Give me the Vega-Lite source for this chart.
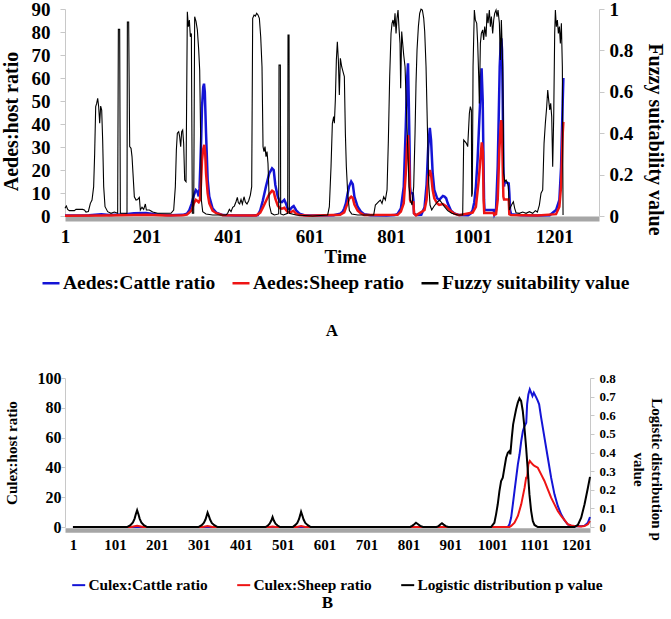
{
"$schema": "https://vega.github.io/schema/vega-lite/v6.json",
"padding": {"left": 0, "top": 0, "right": 6, "bottom": 0},
"background": "white",
"config": {
 "font": "Liberation Serif",
 "view": {"stroke": null},
 "axis": {"grid": false, "labelFont": "Liberation Serif", "labelFontWeight": "bold", "titleFont": "Liberation Serif", "titleFontWeight": "bold", "labelColor": "#000", "titleColor": "#000", "labelFlush": false, "labelOverlap": false, "labelBound": false},
 "legend": {"labelFont": "Liberation Serif", "labelFontWeight": "bold", "labelColor": "#000"},
 "title": {"font": "Liberation Serif", "fontWeight": "bold", "color": "#000"}
},
"datasets": {
 "aCattle": [{"t":1,"v":0.2},{"t":60,"v":0.3},{"t":90,"v":0.8},{"t":110,"v":0.4},{"t":140,"v":0.6},{"t":170,"v":1.2},{"t":200,"v":1.3},{"t":230,"v":0.6},{"t":260,"v":0.3},{"t":290,"v":0.5},{"t":300,"v":1.0},{"t":306,"v":2.5},{"t":312,"v":5.5},{"t":317,"v":9},{"t":322,"v":11.3},{"t":326,"v":10.5},{"t":329,"v":8.5},{"t":331,"v":12},{"t":333,"v":22},{"t":335,"v":33},{"t":337,"v":47},{"t":340,"v":56},{"t":342,"v":57.5},{"t":344,"v":54},{"t":347,"v":36},{"t":351,"v":15.6},{"t":355,"v":8.4},{"t":363,"v":3.3},{"t":372,"v":1.5},{"t":388,"v":0.4},{"t":420,"v":0.2},{"t":460,"v":0.2},{"t":474,"v":0.4},{"t":480,"v":2.5},{"t":486,"v":6.5},{"t":494,"v":12.8},{"t":502,"v":18.5},{"t":509,"v":20.7},{"t":513,"v":20},{"t":517,"v":13.5},{"t":523,"v":8.4},{"t":528,"v":6.2},{"t":533,"v":6.0},{"t":539,"v":7.0},{"t":543,"v":5.5},{"t":547,"v":3.2},{"t":553,"v":2.8},{"t":558,"v":3.8},{"t":562,"v":4.3},{"t":568,"v":2.5},{"t":576,"v":1.0},{"t":588,"v":0.3},{"t":620,"v":0.2},{"t":660,"v":0.3},{"t":676,"v":1.0},{"t":682,"v":1.8},{"t":686,"v":3.3},{"t":690,"v":5.5},{"t":694,"v":9.5},{"t":698,"v":12.8},{"t":703,"v":15},{"t":707,"v":13.8},{"t":711,"v":8.4},{"t":719,"v":4.0},{"t":727,"v":1.9},{"t":735,"v":0.8},{"t":750,"v":0.3},{"t":790,"v":0.2},{"t":810,"v":0.4},{"t":817,"v":0.9},{"t":825,"v":3.3},{"t":832,"v":12.8},{"t":837,"v":38.9},{"t":840,"v":59},{"t":842.5,"v":66.4},{"t":844,"v":53.3},{"t":846,"v":33},{"t":847.5,"v":12.8},{"t":849,"v":10.1},{"t":854,"v":9.8},{"t":855.6,"v":7.0},{"t":857.2,"v":1.1},{"t":862,"v":0.4},{"t":875,"v":0.5},{"t":883,"v":3.8},{"t":888,"v":13.5},{"t":892,"v":30},{"t":896,"v":38.3},{"t":899,"v":33},{"t":903,"v":18.5},{"t":907,"v":11.3},{"t":914,"v":7.7},{"t":919,"v":7.0},{"t":928,"v":8.7},{"t":932,"v":8.4},{"t":936,"v":7.7},{"t":940,"v":5.5},{"t":948,"v":2.3},{"t":956,"v":1.1},{"t":968,"v":0.4},{"t":990,"v":0.3},{"t":996,"v":1.0},{"t":1001,"v":2.6},{"t":1005,"v":6},{"t":1009,"v":12.8},{"t":1013,"v":24},{"t":1016,"v":36},{"t":1019,"v":48},{"t":1021,"v":57.7},{"t":1023,"v":64.2},{"t":1025.7,"v":50.4},{"t":1027.3,"v":28.7},{"t":1029,"v":7},{"t":1030,"v":2.6},{"t":1052.7,"v":2.6},{"t":1054.3,"v":0.8},{"t":1058.4,"v":2.6},{"t":1062.5,"v":21.4},{"t":1065,"v":43.2},{"t":1067.4,"v":64.9},{"t":1069.9,"v":75.1},{"t":1071.5,"v":77.2},{"t":1073.1,"v":72.2},{"t":1074.8,"v":50.4},{"t":1076.4,"v":21.4},{"t":1078,"v":12.8},{"t":1079.7,"v":14.9},{"t":1089.5,"v":14.2},{"t":1091.1,"v":9.8},{"t":1092.8,"v":2.6},{"t":1095.2,"v":0.8},{"t":1120,"v":0.3},{"t":1160,"v":0.2},{"t":1190,"v":0.3},{"t":1205.6,"v":2.6},{"t":1213.8,"v":7},{"t":1217.9,"v":21},{"t":1222,"v":50},{"t":1223.6,"v":60}],
 "aSheep": [{"t":1,"v":0.1},{"t":100,"v":0.2},{"t":170,"v":0.4},{"t":200,"v":0.5},{"t":250,"v":0.2},{"t":290,"v":0.3},{"t":300,"v":0.6},{"t":306,"v":1.5},{"t":312,"v":2.6},{"t":317,"v":5.5},{"t":322,"v":7},{"t":326,"v":6.5},{"t":329,"v":6.0},{"t":332,"v":7},{"t":334,"v":12},{"t":337,"v":24},{"t":340,"v":29},{"t":342.8,"v":30.9},{"t":345,"v":27},{"t":347,"v":18.5},{"t":351,"v":9.8},{"t":355,"v":5.5},{"t":363,"v":2.3},{"t":372,"v":1.2},{"t":388,"v":0.3},{"t":470,"v":0.2},{"t":480,"v":1.5},{"t":486,"v":3.5},{"t":494,"v":6.5},{"t":502,"v":9.5},{"t":509,"v":11},{"t":513,"v":10.5},{"t":517,"v":7.5},{"t":523,"v":4.5},{"t":528,"v":3.4},{"t":533,"v":3.2},{"t":539,"v":3.6},{"t":547,"v":1.8},{"t":553,"v":1.5},{"t":561,"v":2.3},{"t":568,"v":1.0},{"t":576,"v":0.4},{"t":600,"v":0.1},{"t":676,"v":0.5},{"t":686,"v":1.6},{"t":694,"v":5.5},{"t":698,"v":7.5},{"t":703,"v":8.4},{"t":707,"v":7.8},{"t":711,"v":5},{"t":719,"v":2.3},{"t":727,"v":1.1},{"t":735,"v":0.4},{"t":817,"v":0.5},{"t":825,"v":1.9},{"t":832,"v":5.5},{"t":837,"v":18.5},{"t":840,"v":30},{"t":842.5,"v":35.2},{"t":844,"v":30},{"t":846,"v":18.5},{"t":847.5,"v":7},{"t":849,"v":6.2},{"t":855.6,"v":6.0},{"t":857.2,"v":1.1},{"t":862,"v":0.3},{"t":883,"v":2.6},{"t":888,"v":7},{"t":892,"v":17},{"t":896,"v":20},{"t":899,"v":18},{"t":903,"v":11.3},{"t":907,"v":7.7},{"t":914,"v":5.5},{"t":919,"v":4.8},{"t":928,"v":5.2},{"t":936,"v":4.3},{"t":944,"v":2.6},{"t":956,"v":1.0},{"t":968,"v":0.3},{"t":1001,"v":1.5},{"t":1009,"v":4.0},{"t":1016,"v":15.6},{"t":1021,"v":27},{"t":1023.5,"v":32},{"t":1026,"v":28},{"t":1028,"v":7},{"t":1029.5,"v":1.3},{"t":1052.5,"v":1.3},{"t":1054,"v":0.5},{"t":1058.4,"v":0.8},{"t":1062.5,"v":7},{"t":1066.6,"v":28.7},{"t":1069.9,"v":39.5},{"t":1071.5,"v":41.7},{"t":1073.1,"v":38.6},{"t":1074.8,"v":21.4},{"t":1076.4,"v":8.4},{"t":1078,"v":7.2},{"t":1089.5,"v":7.2},{"t":1091,"v":0.8},{"t":1095,"v":0.4},{"t":1160,"v":0.2},{"t":1205.6,"v":0.8},{"t":1213.8,"v":4},{"t":1217.9,"v":12.8},{"t":1222,"v":36},{"t":1223.6,"v":40.9}],
 "aFuzzy": [{"t":1,"v":0.037},{"t":4.3,"v":0.048},{"t":7.6,"v":0.032},{"t":11.6,"v":0.026},{"t":23.9,"v":0.026},{"t":28,"v":0.032},{"t":44.4,"v":0.032},{"t":48.5,"v":0.029},{"t":52.5,"v":0.019},{"t":58.3,"v":0.022},{"t":63.2,"v":0.061},{"t":67.3,"v":0.077},{"t":71.3,"v":0.142},{"t":73.8,"v":0.303},{"t":76.3,"v":0.528},{"t":78.7,"v":0.544},{"t":81.2,"v":0.568},{"t":83.6,"v":0.528},{"t":86.1,"v":0.448},{"t":88.5,"v":0.531},{"t":91,"v":0.512},{"t":93.4,"v":0.367},{"t":95.9,"v":0.142},{"t":99.2,"v":0.045},{"t":105.7,"v":0.021},{"t":113.9,"v":0.013},{"t":122.1,"v":0.019},{"t":130.2,"v":0.013},{"t":131.9,"v":0.902},{"t":135.1,"v":0.902},{"t":136.8,"v":0.013},{"t":153.1,"v":0.013},{"t":154,"v":0.937},{"t":157.2,"v":0.937},{"t":159.7,"v":0.335},{"t":163,"v":0.327},{"t":165.4,"v":0.287},{"t":167.8,"v":0.206},{"t":171.1,"v":0.093},{"t":175.2,"v":0.077},{"t":179.3,"v":0.08},{"t":183.4,"v":0.09},{"t":185.8,"v":0.029},{"t":189.9,"v":0.042},{"t":194,"v":0.032},{"t":198.1,"v":0.058},{"t":200.6,"v":0.029},{"t":207.9,"v":0.029},{"t":216.1,"v":0.019},{"t":228.4,"v":0.013},{"t":261.1,"v":0.013},{"t":267.6,"v":0.029},{"t":271.7,"v":0.142},{"t":274.2,"v":0.319},{"t":276.6,"v":0.4},{"t":279.9,"v":0.407},{"t":282.3,"v":0.383},{"t":284.8,"v":0.335},{"t":287.2,"v":0.407},{"t":289.7,"v":0.415},{"t":292.1,"v":0.351},{"t":294.6,"v":0.174},{"t":297.9,"v":0.166},{"t":301.1,"v":0.987},{"t":303.6,"v":0.915},{"t":306.1,"v":0.947},{"t":308.5,"v":0.866},{"t":311,"v":0.882},{"t":313.4,"v":0.013},{"t":316.7,"v":0.013},{"t":319.1,"v":0.963},{"t":322.4,"v":0.94},{"t":325.7,"v":0.899},{"t":329,"v":0.802},{"t":331.4,"v":0.705},{"t":333.9,"v":0.367},{"t":335.5,"v":0.077},{"t":338.8,"v":0.021},{"t":346.9,"v":0.01},{"t":363.3,"v":0.005},{"t":396,"v":0.005},{"t":400.1,"v":0.013},{"t":404.2,"v":0.032},{"t":408.3,"v":0.021},{"t":412.4,"v":0.042},{"t":416.4,"v":0.048},{"t":420.5,"v":0.069},{"t":423.8,"v":0.09},{"t":426.3,"v":0.064},{"t":429.5,"v":0.058},{"t":432.8,"v":0.08},{"t":436.1,"v":0.058},{"t":440.2,"v":0.093},{"t":443.4,"v":0.068},{"t":447.5,"v":0.058},{"t":451.6,"v":0.074},{"t":455.7,"v":0.101},{"t":459,"v":0.142},{"t":461.4,"v":0.955},{"t":464.7,"v":0.971},{"t":468,"v":0.966},{"t":471.2,"v":0.979},{"t":474.5,"v":0.971},{"t":477.8,"v":0.955},{"t":481.1,"v":0.866},{"t":484.3,"v":0.721},{"t":486.8,"v":0.335},{"t":489.2,"v":0.311},{"t":491.7,"v":0.335},{"t":494.1,"v":0.287},{"t":496.6,"v":0.311},{"t":499,"v":0.254},{"t":502.3,"v":0.053},{"t":507.2,"v":0.013},{"t":514.6,"v":0.005},{"t":525.2,"v":0.01},{"t":526,"v":0.729},{"t":529.3,"v":0.729},{"t":530.1,"v":0.01},{"t":536.7,"v":0.005},{"t":547.3,"v":0.013},{"t":548.1,"v":0.874},{"t":550.6,"v":0.874},{"t":551.4,"v":0.013},{"t":567.7,"v":0.005},{"t":608.6,"v":0},{"t":645.4,"v":0.005},{"t":649.5,"v":0.045},{"t":653.6,"v":0.238},{"t":656.9,"v":0.448},{"t":660.1,"v":0.48},{"t":661.8,"v":0.448},{"t":664.2,"v":0.56},{"t":666.7,"v":0.754},{"t":669.1,"v":0.842},{"t":671.6,"v":0.754},{"t":674,"v":0.585},{"t":676.5,"v":0.762},{"t":679.8,"v":0.721},{"t":683,"v":0.697},{"t":686.3,"v":0.673},{"t":688.8,"v":0.4},{"t":691.2,"v":0.238},{"t":694.5,"v":0.11},{"t":698.6,"v":0.026},{"t":704.3,"v":0.01},{"t":719,"v":0.005},{"t":758.3,"v":0.005},{"t":762.4,"v":0.053},{"t":766.5,"v":0.061},{"t":770.5,"v":0.069},{"t":774.6,"v":0.077},{"t":778.7,"v":0.061},{"t":782.8,"v":0.093},{"t":786.9,"v":0.077},{"t":791,"v":0.126},{"t":794.3,"v":0.367},{"t":797.5,"v":0.673},{"t":800.8,"v":0.882},{"t":803.3,"v":0.931},{"t":805.7,"v":0.947},{"t":808.2,"v":0.915},{"t":810.6,"v":0.979},{"t":813.1,"v":0.882},{"t":815.5,"v":0.955},{"t":818,"v":0.995},{"t":820.4,"v":0.907},{"t":822.9,"v":0.834},{"t":824.5,"v":0.617},{"t":827,"v":0.891},{"t":829.4,"v":0.834},{"t":831.9,"v":0.778},{"t":835.2,"v":0.721},{"t":838.4,"v":0.528},{"t":841.7,"v":0.335},{"t":845,"v":0.142},{"t":848.2,"v":0.077},{"t":852.3,"v":0.053},{"t":856.4,"v":0.142},{"t":859.7,"v":0.4},{"t":862.1,"v":0.641},{"t":864.6,"v":0.802},{"t":867.9,"v":0.915},{"t":871.1,"v":0.979},{"t":874.4,"v":0.999},{"t":877.7,"v":0.995},{"t":881,"v":0.955},{"t":883.4,"v":0.891},{"t":886.7,"v":0.721},{"t":890,"v":0.431},{"t":893.2,"v":0.158},{"t":896.5,"v":0.053},{"t":900.6,"v":0.029},{"t":905.5,"v":0.045},{"t":910.4,"v":0.058},{"t":915.3,"v":0.069},{"t":920.2,"v":0.077},{"t":925.1,"v":0.064},{"t":931.7,"v":0.045},{"t":939.8,"v":0.026},{"t":949.6,"v":0.013},{"t":964.4,"v":0.005},{"t":976.6,"v":0.005},{"t":979.1,"v":0.367},{"t":982.4,"v":0.359},{"t":985.6,"v":0.351},{"t":988.9,"v":0.335},{"t":993,"v":0.496},{"t":995.4,"v":0.528},{"t":997.9,"v":0.512},{"t":998.7,"v":0.093},{"t":1000.3,"v":0.11},{"t":1002,"v":0.721},{"t":1005.2,"v":0.995},{"t":1007.7,"v":0.947},{"t":1011,"v":0.931},{"t":1013.4,"v":0.834},{"t":1015.9,"v":0.673},{"t":1017.5,"v":0.544},{"t":1020,"v":0.834},{"t":1022.4,"v":0.882},{"t":1025.7,"v":0.899},{"t":1028.1,"v":0.85},{"t":1030.6,"v":0.915},{"t":1033.9,"v":0.866},{"t":1036.3,"v":0.979},{"t":1038.8,"v":0.931},{"t":1042,"v":0.995},{"t":1044.5,"v":0.915},{"t":1047,"v":0.963},{"t":1050.2,"v":0.882},{"t":1052.7,"v":0.947},{"t":1055.1,"v":0.979},{"t":1058.4,"v":0.995},{"t":1060.9,"v":0.963},{"t":1063.3,"v":0.995},{"t":1066.6,"v":0.931},{"t":1069,"v":0.754},{"t":1071.5,"v":0.947},{"t":1074.8,"v":0.721},{"t":1077.2,"v":0.206},{"t":1079.7,"v":0.166},{"t":1083,"v":0.174},{"t":1086.2,"v":0.161},{"t":1088.7,"v":0.142},{"t":1091.1,"v":0.029},{"t":1094.4,"v":0.045},{"t":1097.7,"v":0.058},{"t":1100.9,"v":0.069},{"t":1104.2,"v":0.037},{"t":1107.5,"v":0.016},{"t":1115.6,"v":0.013},{"t":1123.8,"v":0.019},{"t":1132,"v":0.013},{"t":1140.2,"v":0.021},{"t":1148.4,"v":0.013},{"t":1154.9,"v":0.026},{"t":1159.8,"v":0.019},{"t":1164.7,"v":0.053},{"t":1168.8,"v":0.11},{"t":1172.9,"v":0.126},{"t":1176.2,"v":0.351},{"t":1179.4,"v":0.448},{"t":1182.7,"v":0.528},{"t":1185.2,"v":0.609},{"t":1187.6,"v":0.56},{"t":1190.1,"v":0.512},{"t":1192.5,"v":0.544},{"t":1195,"v":0.48},{"t":1197.4,"v":0.238},{"t":1199.9,"v":0.48},{"t":1202.3,"v":0.882},{"t":1204,"v":0.995},{"t":1206.4,"v":0.915},{"t":1208.9,"v":0.947},{"t":1211.3,"v":0.882},{"t":1213.8,"v":0.915},{"t":1216.2,"v":0.834},{"t":1218.7,"v":0.931},{"t":1221.1,"v":0.721},{"t":1222.8,"v":0.005}],
 "bCattle": [{"t":1,"v":0},{"t":1038,"v":0},{"t":1042,"v":1.8},{"t":1046,"v":6.3},{"t":1050,"v":15.2},{"t":1054,"v":24.2},{"t":1058,"v":33.1},{"t":1062,"v":42.1},{"t":1066,"v":48.8},{"t":1070,"v":57.7},{"t":1074,"v":64.4},{"t":1078,"v":67.8},{"t":1082,"v":70},{"t":1084,"v":82.3},{"t":1087,"v":89},{"t":1090.4,"v":92.4},{"t":1093.6,"v":90.2},{"t":1096.8,"v":87.9},{"t":1100,"v":90.2},{"t":1103,"v":88.5},{"t":1106,"v":86.8},{"t":1109.5,"v":84.6},{"t":1112.7,"v":82.3},{"t":1117.5,"v":73.4},{"t":1125.4,"v":60},{"t":1133.4,"v":46.5},{"t":1141.3,"v":33.1},{"t":1149.3,"v":21.9},{"t":1157.2,"v":14.1},{"t":1165.2,"v":8.5},{"t":1173.1,"v":4.5},{"t":1181,"v":1.8},{"t":1189,"v":0.9},{"t":1197,"v":0.5},{"t":1205,"v":0.7},{"t":1213,"v":0.5},{"t":1221,"v":0.9},{"t":1229,"v":2.9},{"t":1234,"v":6.7}],
 "bSheep": [{"t":1,"v":0},{"t":140,"v":0},{"t":148,"v":0.5},{"t":154,"v":0.8},{"t":160,"v":0.5},{"t":168,"v":0},{"t":310,"v":0},{"t":322,"v":0.6},{"t":334,"v":0},{"t":470,"v":0},{"t":477,"v":0.4},{"t":484,"v":0},{"t":535,"v":0},{"t":545,"v":0.6},{"t":555,"v":0},{"t":1042,"v":0},{"t":1046,"v":0.7},{"t":1054,"v":2.9},{"t":1062,"v":7.4},{"t":1070,"v":15.2},{"t":1078,"v":26.4},{"t":1081.7,"v":33.1},{"t":1084,"v":33.1},{"t":1087,"v":42.1},{"t":1090.4,"v":44.3},{"t":1093.6,"v":43.2},{"t":1097.6,"v":42},{"t":1101.6,"v":41},{"t":1109.5,"v":39.8},{"t":1117.5,"v":35.3},{"t":1125.4,"v":30.9},{"t":1133.4,"v":25.3},{"t":1141.3,"v":19.7},{"t":1149.3,"v":15.2},{"t":1157.2,"v":10.7},{"t":1165.2,"v":7.4},{"t":1173.1,"v":4.7},{"t":1181,"v":1.8},{"t":1189,"v":1.1},{"t":1197,"v":0.7},{"t":1213,"v":0.4},{"t":1221,"v":0.7},{"t":1229,"v":1.8},{"t":1234,"v":4.0}],
 "bP": [{"t":1,"v":0},{"t":130,"v":0},{"t":138,"v":0.01},{"t":144,"v":0.025},{"t":148,"v":0.045},{"t":151,"v":0.07},{"t":154,"v":0.09},{"t":157,"v":0.07},{"t":160,"v":0.045},{"t":164,"v":0.025},{"t":170,"v":0.01},{"t":178,"v":0},{"t":300,"v":0},{"t":308,"v":0.01},{"t":313,"v":0.022},{"t":317,"v":0.04},{"t":320,"v":0.062},{"t":322,"v":0.077},{"t":325,"v":0.06},{"t":328,"v":0.04},{"t":332,"v":0.022},{"t":338,"v":0.01},{"t":346,"v":0},{"t":460,"v":0},{"t":466,"v":0.008},{"t":470,"v":0.018},{"t":474,"v":0.035},{"t":477,"v":0.054},{"t":480,"v":0.035},{"t":484,"v":0.018},{"t":489,"v":0.008},{"t":495,"v":0},{"t":525,"v":0},{"t":531,"v":0.01},{"t":536,"v":0.022},{"t":540,"v":0.042},{"t":543,"v":0.065},{"t":545,"v":0.082},{"t":548,"v":0.062},{"t":551,"v":0.04},{"t":555,"v":0.022},{"t":561,"v":0.01},{"t":568,"v":0},{"t":805,"v":0},{"t":810,"v":0.006},{"t":815,"v":0.015},{"t":819,"v":0.023},{"t":824,"v":0.015},{"t":829,"v":0.006},{"t":836,"v":0},{"t":868,"v":0},{"t":873,"v":0.005},{"t":877,"v":0.013},{"t":881,"v":0.02},{"t":885,"v":0.013},{"t":890,"v":0.005},{"t":896,"v":0},{"t":998,"v":0},{"t":1006,"v":0.023},{"t":1010,"v":0.068},{"t":1014,"v":0.122},{"t":1018,"v":0.193},{"t":1022,"v":0.247},{"t":1026,"v":0.265},{"t":1030,"v":0.319},{"t":1034,"v":0.372},{"t":1038,"v":0.399},{"t":1042,"v":0.408},{"t":1044,"v":0.39},{"t":1047.5,"v":0.48},{"t":1050.7,"v":0.551},{"t":1053.8,"v":0.587},{"t":1057.8,"v":0.632},{"t":1061.8,"v":0.668},{"t":1065.8,"v":0.691},{"t":1069.7,"v":0.677},{"t":1073.7,"v":0.623},{"t":1077.7,"v":0.533},{"t":1081.7,"v":0.426},{"t":1085.7,"v":0.301},{"t":1089.6,"v":0.175},{"t":1093.6,"v":0.086},{"t":1097.6,"v":0.032},{"t":1101.6,"v":0.011},{"t":1109.5,"v":0},{"t":1197,"v":0},{"t":1205,"v":0.011},{"t":1213,"v":0.05},{"t":1221,"v":0.122},{"t":1229,"v":0.211},{"t":1234,"v":0.269}]
},
"spacing": 31,
"resolve": {"scale": {"color": "independent"}},
"vconcat": [
 {
  "width": 534, "height": 207,
  "title": {"text": "A", "orient": "bottom", "anchor": "middle", "offset": 30, "fontSize": 17, "baseline": "top"},
  "layer": [
   {"layer": [
     {"data": {"name": "aCattle"}, "mark": {"type": "line", "strokeWidth": 2.5},
      "encoding": {
       "x": {"field": "t", "type": "quantitative", "scale": {"domain": [1, 1311], "nice": false, "zero": false},
             "axis": {"values": [1,201,401,601,801,1001,1201], "format": "d", "labelOverlap": false, "labelFlush": false, "ticks": false, "domainColor": "#a6a6a6", "domainWidth": 5, "offset": 2.5, "labelFontSize": 19, "labelPadding": 9, "title": "Time", "titleFontSize": 19, "titleX": 280, "titleY": 44, "titleBaseline": "alphabetic", "titleAlign": "center"}},
       "y": {"field": "v", "type": "quantitative", "scale": {"domain": [0, 90], "nice": false},
             "axis": {"values": [0,10,20,30,40,50,60,70,80,90], "labelOverlap": false, "labelFlush": false, "tickSize": 5, "tickColor": "#c8c8c8", "domainColor": "#c8c8c8", "labelPadding": 10, "labelFontSize": 19, "title": "Aedes:host ratio", "titleFontSize": 20, "titleX": -54, "titleY": 112, "titleAngle": -90, "titleBaseline": "middle", "titleAlign": "center"}},
       "color": {"datum": "Aedes:Cattle ratio", "type": "nominal",
             "scale": {"domain": ["Aedes:Cattle ratio", "Aedes:Sheep ratio", "Fuzzy suitability value"], "range": ["#1414d6", "#ee1414", "#000000"]},
             "legend": {"orient": "none", "legendX": -24, "legendY": 264, "direction": "horizontal", "title": null, "symbolType": "stroke", "symbolSize": 289, "symbolStrokeWidth": 2.5, "labelFontSize": 19.5, "columnPadding": 11, "labelOffset": 2, "labelLimit": 400, "padding": 0}}
      }},
     {"data": {"name": "aSheep"}, "mark": {"type": "line", "strokeWidth": 2.5},
      "encoding": {
       "x": {"field": "t", "type": "quantitative", "scale": {"domain": [1, 1311], "nice": false, "zero": false},
             "axis": {"values": [1,201,401,601,801,1001,1201], "format": "d", "labelOverlap": false, "labelFlush": false, "ticks": false, "domainColor": "#a6a6a6", "domainWidth": 5, "offset": 2.5, "labelFontSize": 19, "labelPadding": 9, "title": "Time", "titleFontSize": 19, "titleX": 280, "titleY": 44, "titleBaseline": "alphabetic", "titleAlign": "center"}},
       "y": {"field": "v", "type": "quantitative", "scale": {"domain": [0, 90], "nice": false},
             "axis": {"values": [0,10,20,30,40,50,60,70,80,90], "labelOverlap": false, "labelFlush": false, "tickSize": 5, "tickColor": "#c8c8c8", "domainColor": "#c8c8c8", "labelPadding": 10, "labelFontSize": 19, "title": "Aedes:host ratio", "titleFontSize": 20, "titleX": -54, "titleY": 112, "titleAngle": -90, "titleBaseline": "middle", "titleAlign": "center"}},
       "color": {"datum": "Aedes:Sheep ratio", "type": "nominal"}
      }}
   ]},
   {"data": {"name": "aFuzzy"}, "mark": {"type": "line", "strokeWidth": 1.1},
    "encoding": {
     "x": {"field": "t", "type": "quantitative", "scale": {"domain": [1, 1311], "nice": false, "zero": false},
           "axis": {"values": [1,201,401,601,801,1001,1201], "format": "d", "labelOverlap": false, "labelFlush": false, "ticks": false, "domainColor": "#a6a6a6", "domainWidth": 5, "offset": 2.5, "labelFontSize": 19, "labelPadding": 9, "title": "Time", "titleFontSize": 19, "titleX": 280, "titleY": 44, "titleBaseline": "alphabetic", "titleAlign": "center"}},
     "y": {"field": "v", "type": "quantitative", "scale": {"domain": [0, 1], "nice": false},
           "axis": {"orient": "right", "values": [0,0.2,0.4,0.6,0.8,1], "format": "~g", "labelOverlap": false, "labelFlush": false, "tickSize": 5, "tickColor": "#c8c8c8", "domainColor": "#c8c8c8", "labelPadding": 5, "labelFontSize": 19, "title": "Fuzzy suitability value", "titleFontSize": 20, "titleAngle": 90, "titleX": 55, "titleY": 130, "titleBaseline": "middle", "titleAlign": "center"}},
     "color": {"datum": "Fuzzy suitability value", "type": "nominal"}
    }}
  ],
  "resolve": {"scale": {"y": "independent"}}
 },
 {
  "width": 525, "height": 149,
  "title": {"text": "B", "orient": "bottom", "anchor": "middle", "offset": 1, "fontSize": 17, "baseline": "top"},
  "layer": [
   {"layer": [
     {"data": {"name": "bCattle"}, "mark": {"type": "line", "strokeWidth": 2},
      "encoding": {
       "x": {"field": "t", "type": "quantitative", "scale": {"domain": [-18, 1234], "nice": false, "zero": false},
             "axis": {"values": [1,101,201,301,401,501,601,701,801,901,1001,1101,1201], "format": "d", "labelOverlap": false, "labelFlush": false, "ticks": false, "domainColor": "#a6a6a6", "domainWidth": 4.5, "offset": 3, "labelFontSize": 15, "labelPadding": 7, "title": null}},
       "y": {"field": "v", "type": "quantitative", "scale": {"domain": [0, 100], "nice": false},
             "axis": {"values": [0,20,40,60,80,100], "labelOverlap": false, "labelFlush": false, "tickSize": 4, "tickColor": "#c8c8c8", "domainColor": "#c8c8c8", "labelPadding": 0, "labelFontSize": 16, "title": "Culex:host ratio", "titleFontSize": 15, "titleX": -54, "titleAngle": -90, "titleBaseline": "middle", "titleAlign": "center"}},
       "color": {"datum": "Culex:Cattle ratio", "type": "nominal",
             "scale": {"domain": ["Culex:Cattle ratio", "Culex:Sheep ratio", "Logistic distribution p value"], "range": ["#1414d6", "#ee1414", "#000000"]},
             "legend": {"orient": "none", "legendX": 6, "legendY": 199, "direction": "horizontal", "title": null, "symbolType": "stroke", "symbolSize": 169, "symbolStrokeWidth": 2, "labelFontSize": 15.4, "columnPadding": 25, "labelOffset": 2, "labelLimit": 400, "padding": 0}}
      }},
     {"data": {"name": "bSheep"}, "mark": {"type": "line", "strokeWidth": 2},
      "encoding": {
       "x": {"field": "t", "type": "quantitative", "scale": {"domain": [-18, 1234], "nice": false, "zero": false},
             "axis": {"values": [1,101,201,301,401,501,601,701,801,901,1001,1101,1201], "format": "d", "labelOverlap": false, "labelFlush": false, "ticks": false, "domainColor": "#a6a6a6", "domainWidth": 4.5, "offset": 3, "labelFontSize": 15, "labelPadding": 7, "title": null}},
       "y": {"field": "v", "type": "quantitative", "scale": {"domain": [0, 100], "nice": false},
             "axis": {"values": [0,20,40,60,80,100], "labelOverlap": false, "labelFlush": false, "tickSize": 4, "tickColor": "#c8c8c8", "domainColor": "#c8c8c8", "labelPadding": 0, "labelFontSize": 16, "title": "Culex:host ratio", "titleFontSize": 15, "titleX": -54, "titleAngle": -90, "titleBaseline": "middle", "titleAlign": "center"}},
       "color": {"datum": "Culex:Sheep ratio", "type": "nominal"}
      }}
   ]},
   {"data": {"name": "bP"}, "mark": {"type": "line", "strokeWidth": 2},
    "encoding": {
     "x": {"field": "t", "type": "quantitative", "scale": {"domain": [-18, 1234], "nice": false, "zero": false},
           "axis": {"values": [1,101,201,301,401,501,601,701,801,901,1001,1101,1201], "format": "d", "labelOverlap": false, "labelFlush": false, "ticks": false, "domainColor": "#a6a6a6", "domainWidth": 4.5, "offset": 3, "labelFontSize": 15, "labelPadding": 7, "title": null}},
     "y": {"field": "v", "type": "quantitative", "scale": {"domain": [0, 0.8], "nice": false},
           "axis": {"orient": "right", "values": [0,0.1,0.2,0.3,0.4,0.5,0.6,0.7,0.8], "format": "~g", "labelOverlap": false, "labelFlush": false, "tickSize": 4, "tickColor": "#c8c8c8", "domainColor": "#c8c8c8", "labelPadding": 5, "labelFontSize": 13, "title": ["Logistic distribution p", "value"], "titleFontSize": 15, "titleLineHeight": 18, "titleAngle": 90, "titleX": 66, "titleY": 91, "titleBaseline": "middle", "titleAlign": "center"}},
     "color": {"datum": "Logistic distribution p value", "type": "nominal"}
    }}
  ],
  "resolve": {"scale": {"y": "independent"}}
 }
]
}
